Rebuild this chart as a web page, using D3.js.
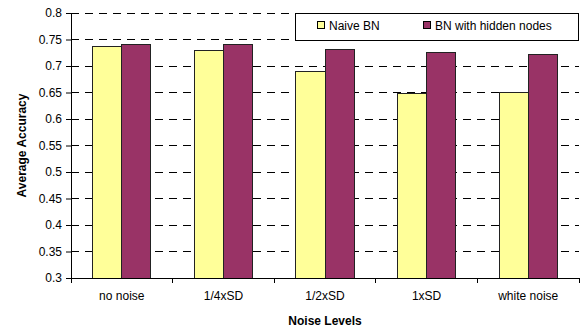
<!DOCTYPE html>
<html><head><meta charset="utf-8">
<script src="https://cdn.jsdelivr.net/npm/d3@7"></script>
<style>body{margin:0;background:#fff}svg{display:block}</style>
</head><body>
<svg id="c" width="586" height="328"></svg>
<script>
const categories = ["no noise","1/4xSD","1/2xSD","1xSD","white noise"];
const seriesNames = ["Naive BN","BN with hidden nodes"];
const naiveBN = [0.736,0.730,0.690,0.648,0.650];
const hiddenBN = [0.741,0.741,0.732,0.725,0.722];
const yTicks = [0.3,0.35,0.4,0.45,0.5,0.55,0.6,0.65,0.7,0.75,0.8];
const colors = ["#FFFF99","#993366"];

const svg = d3.select("#c");
const L=71, R=579, T=13, B=278;
const font = "Liberation Sans, Arial, sans-serif";
const x = d3.scaleBand().domain(categories).range([L,R]).paddingInner(0).paddingOuter(0);
const y = d3.scaleLinear().domain([0.3,0.8]).range([B,T]);
const inner = d3.scaleBand().domain([0,1]).range([0,x.bandwidth()]).paddingInner(0).paddingOuter(0.75);

// gridlines
svg.append("g").selectAll("line").data(yTicks.filter(d=>d>0.3)).join("line")
  .attr("x1",L).attr("x2",R).attr("y1",d=>y(d)).attr("y2",d=>y(d))
  .attr("stroke","#000").attr("stroke-width",1).attr("stroke-dasharray","8,6")
  .attr("shape-rendering","crispEdges");

// bars
const data = categories.map((c,i)=>({c, v:[naiveBN[i],hiddenBN[i]]}));
const g = svg.append("g").selectAll("g").data(data).join("g").attr("transform",d=>`translate(${x(d.c)},0)`);
g.selectAll("rect").data(d=>d.v.map((v,k)=>({v,k}))).join("rect")
  .attr("x",d=>inner(d.k)).attr("width",inner.bandwidth())
  .attr("y",d=>y(d.v)).attr("height",d=>B-y(d.v))
  .attr("fill",d=>colors[d.k]).attr("stroke","#222").attr("stroke-width",1)
  .attr("shape-rendering","crispEdges");

// y axis
const ya = svg.append("g").attr("transform",`translate(${L},0)`)
  .call(d3.axisLeft(y).tickValues(yTicks).tickFormat(d=>String(+d.toFixed(2))).tickSize(5).tickSizeOuter(0));
ya.select(".domain").attr("stroke","#000");
ya.selectAll("text").attr("font-family",font).attr("font-size",12).attr("fill","#000").attr("dx","-1");
ya.selectAll("line").attr("stroke","#000");

// x axis
const xa = svg.append("g").attr("transform",`translate(0,${B})`)
  .call(d3.axisBottom(x).tickSize(0).tickPadding(13));
xa.select(".domain").attr("stroke","#000");
xa.selectAll("text").attr("font-family",font).attr("font-size",12).attr("fill","#000");
svg.append("g").selectAll("line").data(d3.range(categories.length+1)).join("line")
  .attr("x1",i=>L+i*x.bandwidth()).attr("x2",i=>L+i*x.bandwidth())
  .attr("y1",B).attr("y2",B+5).attr("stroke","#000").attr("shape-rendering","crispEdges");

// axis titles
svg.append("text").attr("x",(L+R)/2).attr("y",325).attr("text-anchor","middle")
  .attr("font-family",font).attr("font-size",12).attr("font-weight","bold").text("Noise Levels");
svg.append("text").attr("transform",`translate(26,${(T+B)/2}) rotate(-90)`).attr("text-anchor","middle")
  .attr("font-family",font).attr("font-size",12).attr("font-weight","bold").text("Average Accuracy");

// legend
const lg = svg.append("g");
lg.append("rect").attr("x",295.5).attr("y",13.5).attr("width",283).attr("height",27)
  .attr("fill","#fff").attr("stroke","#000");
const lx = [317,423];
seriesNames.forEach((n,i)=>{
  lg.append("rect").attr("x",lx[i]+0.5).attr("y",21.5).attr("width",7).attr("height",7)
    .attr("fill",colors[i]).attr("stroke","#000");
  lg.append("text").attr("x",lx[i]+12).attr("y",29.5).attr("font-family",font).attr("font-size",12).text(n);
});
</script>
</body></html>
